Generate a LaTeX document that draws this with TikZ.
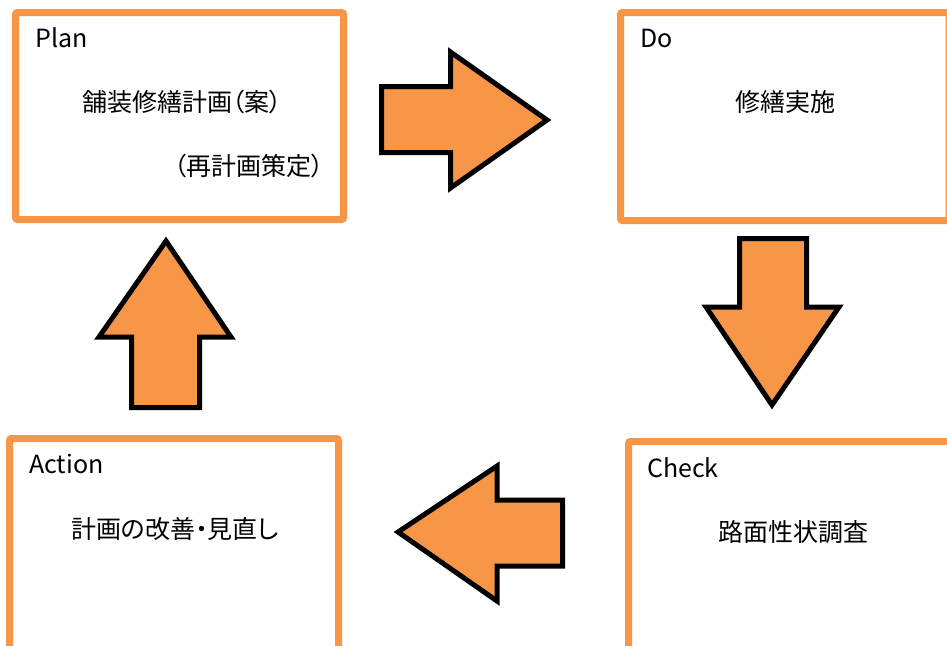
\documentclass[tikz,border=0pt]{standalone}
\usepackage{fontspec}
\newfontfamily\jp{Noto Sans CJK JP}[RawFeature=+palt]
\definecolor{pdcaorange}{HTML}{F79646}
\begin{document}
\begin{tikzpicture}[x=1pt,y=-1pt,
  phasebox/.style={draw=pdcaorange,line width=7,fill=white,rounded corners=2},
  blockarrow/.style={draw=black,fill=pdcaorange,line width=5,miter limit=10},
  phaselabel/.style={anchor=base west,inner sep=0,font=\jp\fontsize{25}{29}\selectfont},
  phasetext/.style={anchor=center,inner sep=0,font=\jp\fontsize{25}{30}\selectfont}]
\useasboundingbox (0,0) rectangle (947,645);
\clip (0,0) rectangle (947,645);
% boxes
\draw[phasebox] (15.5,12.5) rectangle (343.5,219.5);
\draw[phasebox] (620.5,12.5) rectangle (949,220.5);
\draw[phasebox] (628.5,441.5) rectangle (952,660);
\draw[phasebox] (9.5,438.5) rectangle (338.5,660);
% labels
\node[phaselabel] (planlbl) at (35,47) {Plan};
\node[phasetext] (plan1) at (182,102) {舗装修繕計画（案）};
\node[phasetext] (plan2) at (249,166) {（再計画策定）};
\node[phaselabel] (dolbl) at (640,47) {Do};
\node[phasetext] (do1) at (785,102) {修繕実施};
\node[phaselabel] (checklbl) at (647,477) {Check};
\node[phasetext] (check1) at (793,532) {路面性状調査};
\node[phaselabel] (actlbl) at (29,473) {Action};
\node[phasetext] (act1) at (175,529) {計画の改善・見直し};
% arrows
\draw[blockarrow] (381.5,86.5) -- (450.5,86.5) -- (450.5,52) -- (547,120) -- (450.5,188) -- (450.5,152.5) -- (381.5,152.5) -- cycle;
\draw[blockarrow] (739.5,238.5) -- (806.5,238.5) -- (806.5,307) -- (839,307) -- (772,405) -- (706,307) -- (739.5,307) -- cycle;
\draw[blockarrow] (562.5,500) -- (497,500) -- (497,466) -- (398,532) -- (497,601) -- (497,566) -- (562.5,566) -- cycle;
\draw[blockarrow] (131.5,407.5) -- (199.5,407.5) -- (199.5,337) -- (231,337) -- (166,241) -- (99,337) -- (131.5,337) -- cycle;
\end{tikzpicture}
\end{document}
